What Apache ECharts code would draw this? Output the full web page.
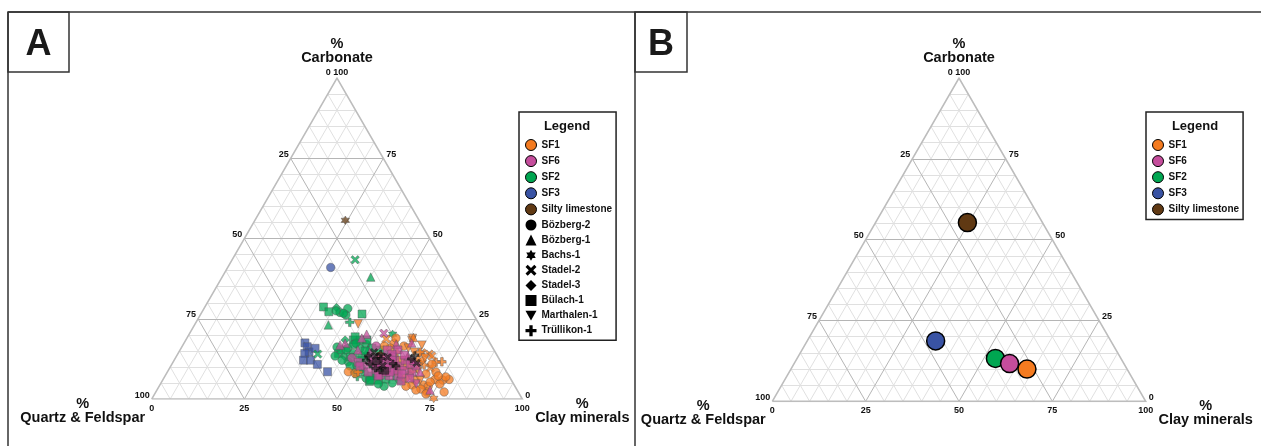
<!DOCTYPE html>
<html><head><meta charset="utf-8">
<script src="https://cdn.jsdelivr.net/npm/echarts@6/dist/echarts.min.js"></script>
<style>html,body{margin:0;padding:0;background:#fff}#c{width:1261px;height:446px}</style>
</head><body><div id="c"></div>
<script>
// ---------------- DATA ----------------
const groupNames = ['SF1', 'SF6', 'SF2', 'SF3', 'Silty limestone'];
const groupColors = ['#F47B20', '#C54D9C', '#00A651', '#3953A4', '#603913'];
const boreholeNames = ['Bözberg-2', 'Bözberg-1', 'Bachs-1', 'Stadel-2', 'Stadel-3', 'Bülach-1', 'Marthalen-1', 'Trüllikon-1'];
const boreholeCodes = ['B2', 'B1', 'BA', 'S2', 'S3', 'BU', 'M1', 'T1'];
const ternaryTicks = [0, 25, 50, 75, 100];
const axisTitles = ['%\nCarbonate', '%\nQuartz & Feldspar', '%\nClay minerals'];

// Panel A samples: [carbonate %, clay minerals %, borehole code, dark outline]
const sf1Samples = [
  [8.5,48.8,'B2'],[8.0,50.9,'B2'],[8.4,51.5,'T1'],[23.4,44.0,'M1'],[18.2,61.1,'M1'],[14.4,65.7,'S2'],
  [14.0,67.9,'S2'],[11.6,72.5,'T1'],[6.1,77.2,'B2'],[5.9,75.6,'B2'],[6.1,73.4,'B2'],[0.2,76.0,'BA'],
  [4.4,71.1,'B2'],[4.0,72.6,'B2'],[2.2,73.2,'B2'],[3.1,71.1,'B2'],[5.9,68.1,'B2'],[7.2,66.1,'M1'],
  [10.3,63.1,'B2'],[11.5,64.5,'T1'],[12.8,65.5,'B1'],[10.6,68.2,'T1'],[9.7,70.3,'S2'],[8.4,72.5,'B2'],
  [7.8,70.1,'B2'],[8.7,67.5,'M1'],[9.7,64.6,'T1'],[12.1,61.0,'BU'],[14.6,58.9,'T1'],[16.5,59.8,'B2'],
  [17.4,56.7,'B2'],[18.7,53.9,'S2'],[15.9,56.4,'B2'],[14.6,63.5,'M1'],[13.4,68.9,'S2'],[4.7,75.4,'B2'],
  [2.2,77.8,'B2'],[6.9,75.9,'B2'],[5.9,69.5,'M1'],[4.4,68.0,'B2'],[6.5,65.1,'B2'],[8.4,62.3,'B2'],
  [10.6,59.6,'T1'],[11.5,71.0,'T1'],[16.8,64.5,'M1'],[18.9,60.9,'M1'],[16.5,54.5,'B2'],[13.4,54.9,'B2'],
  [1.6,73.2,'B2'],[12.0,67.0,'S3'],[9.0,66.0,'BA'],[13.0,62.5,'B1'],[10.0,61.0,'S3'],[19.2,61.0,'B1'],
  [10.9,66.4,'T1'],[12.8,67.3,'M1'],[10.9,70.2,'B2'],[7.2,73.7,'B2'],[5.3,72.5,'B2'],[2.8,69.9,'B2'],
  [4.0,66.6,'B2'],[14.6,65.1,'T1'],[15.9,61.3,'M1'],[19.0,56.4,'B2'],
  [12.5,63.8,'T1',1],[11.2,65.9,'S2',1],[13.6,64.2,'T1',1]
];
const sf6Samples = [
  [20.5,52.4,'S2'],[20.2,47.9,'B1'],[17.4,43.5,'B1'],[16.8,42.4,'B1'],[19.0,47.2,'B1'],[17.5,61.4,'B1'],
  [2.8,73.7,'B1'],[10.6,57.7,'BU'],[9.7,60.0,'BU'],[10.3,61.8,'BU'],[12.1,62.3,'BU'],[8.4,66.0,'BU'],
  [7.2,62.9,'BU'],[7.2,60.5,'BU'],[7.5,57.9,'BU'],[9.0,56.0,'BU'],[11.5,53.7,'BU'],[12.8,54.7,'B2'],
  [11.5,56.7,'B2'],[12.8,57.7,'BU'],[12.1,59.6,'BU'],[9.0,63.6,'BU'],[10.3,66.2,'BU'],[13.4,62.5,'B1'],
  [14.6,51.6,'B1'],[15.3,48.0,'B1'],[12.8,47.6,'B2'],[10.3,52.2,'B2'],[8.4,54.2,'BU'],[13.4,58.4,'BU'],
  [5.6,64.5,'BU'],[4.7,69.0,'M1'],[15.3,55.9,'BU'],[17.1,57.4,'B1'],[16.5,52.3,'B2'],[11.5,50.0,'BU'],
  [10.3,56.5,'BA'],[10.9,64.3,'BU'],[9.0,61.1,'BU'],[7.8,63.6,'BU'],[6.5,66.4,'BU'],[8.4,59.0,'BU'],
  [7.2,57.5,'BU'],[12.1,64.7,'B1'],[15.3,58.8,'BU'],[13.7,61.3,'BU'],[14.0,57.8,'BU'],[8.4,68.2,'B1'],
  [10.3,51.0,'BU'],
  [12.1,53.4,'BU'],[11.5,55.9,'BU'],[10.9,58.4,'BU'],[10.3,55.4,'BU'],[12.1,58.8,'BU'],
  [8.4,60.1,'BU'],[9.7,58.4,'BU'],[12.8,56.3,'BU']
];
const sf2Samples = [
  [43.4,33.2,'S2'],[38.0,40.1,'B1'],[28.7,32.0,'BU'],[27.2,34.2,'BU'],[28.5,35.6,'S3'],[28.2,38.8,'B2'],
  [27.0,37.3,'B2'],[26.2,39.3,'B2'],[26.5,43.5,'BU'],[23.1,36.1,'B1'],[23.9,41.5,'T1'],[26.7,38.4,'B2'],
  [27.5,36.0,'B2'],[14.0,37.8,'S2'],[20.2,54.9,'BA'],
  [14.2,43.3,'BU'],[15.3,43.4,'BU'],[15.9,45.0,'B2'],[14.2,47.3,'B2'],[15.8,48.3,'B2'],[11.6,47.2,'B2'],
  [10.6,50.0,'B2'],[18.4,45.2,'BU'],[18.4,43.0,'S3'],[18.4,47.0,'BU'],[17.1,49.3,'B2'],[15.9,51.5,'BU'],
  [13.4,50.0,'B2'],[13.4,45.2,'S3'],[10.3,48.4,'B2'],[8.4,53.1,'B2'],[7.2,55.8,'BU'],[5.9,58.2,'BU'],
  [6.2,60.1,'BU'],[5.0,62.4,'B2'],[7.2,62.4,'BU'],[12.8,52.5,'B2'],[11.5,54.8,'BA'],[15.3,54.0,'BU'],
  [14.0,56.8,'B2'],[19.4,45.2,'BU'],[16.2,41.9,'B2'],[13.4,42.8,'B2'],[10.3,54.8,'T1'],[9.0,57.6,'S3'],
  [6.5,54.6,'B2'],[12.1,50.2,'BU'],[15.3,50.7,'B1'],[8.4,50.4,'S3'],[4.0,60.7,'B2'],[15.3,44.8,'B2'],
  [7.0,52.0,'T1'],[9.5,52.0,'B2'],[17.0,46.0,'B2'],[5.5,56.0,'BU'],[18.4,48.9,'BU'],[8.0,56.7,'BU'],
  [5.9,64.0,'B2'],[12.1,45.3,'B2'],[13.1,47.0,'BU'],[17.4,46.4,'B2'],[15.0,50.1,'BU'],[4.7,58.8,'B2'],
  [5.9,56.0,'BU'],
  [13.4,51.7,'T1',1],[13.4,53.8,'S2',1],[10.9,53.5,'T1',1],[9.0,57.1,'T1',1],[14.6,52.7,'S2',1],
  [10.3,60.8,'T1',1],[12.1,51.8,'T1',1],[11.8,54.6,'BU',1],[12.6,55.6,'T1',1],[10.4,57.2,'S2',1],
  [11.0,59.6,'T1',1],[9.6,55.6,'T1',1],[13.0,57.2,'S2',1],[8.8,58.6,'BU',1],[14.0,54.8,'T1',1]
];
const sf3Samples = [
  [17.5,32.6,'BU'],[16.3,33.8,'BU'],[14.7,35.1,'BU'],[14.2,34.2,'BU'],[12.1,34.9,'BU'],[12.1,36.8,'BU'],
  [10.8,39.3,'BU'],[8.5,43.2,'BU'],[15.8,36.2,'BU'],[41.0,27.8,'B2']
];
const siltySamples = [[55.7,24.4,'BA']];

// Panel B: mean composition of each group [carbonate %, clay minerals %]
const meanSF1 = [10.0, 63.2];
const meanSF6 = [11.7, 57.7];
const meanSF2 = [13.3, 53.1];
const meanSF3 = [18.7, 34.4];
const meanSilty = [55.3, 24.6];

// ---------------- HELPERS ----------------
const SQ = Math.sqrt(3) / 2;
function tern(carb, clay) { return [clay + carb / 2, carb * SQ]; }

const shapeSymbols = {
  B2: 'circle', B1: 'triangle',
  BA: 'path://M5,0 L6.44,2.5 L9.33,2.5 L7.89,5 L9.33,7.5 L6.44,7.5 L5,10 L3.56,7.5 L0.67,7.5 L2.11,5 L0.67,2.5 L3.56,2.5 Z',
  S2: 'path://M0,2 L2,0 L5,3 L8,0 L10,2 L7,5 L10,8 L8,10 L5,7 L2,10 L0,8 L3,5 Z',
  S3: 'diamond', BU: 'rect',
  M1: 'path://M0,0 L10,0 L5,9 Z',
  T1: 'path://M3.5,0 L6.5,0 L6.5,3.5 L10,3.5 L10,6.5 L6.5,6.5 L6.5,10 L3.5,10 L3.5,6.5 L0,6.5 L0,3.5 L3.5,3.5 Z'
};
const shapeSizes = { B2: 8.5, B1: 8.5, BA: 8.5, S2: 8.5, S3: 8.5, BU: 8, M1: 8.5, T1: 8.5 };

const FONT = 'Liberation Sans';
const TXT = '#111';

function segs(levels) {
  const out = [];
  for (const t of levels) {
    out.push({ coords: [tern(t, 0), tern(t, 100 - t)] });
    out.push({ coords: [tern(0, t), tern(100 - t, t)] });
    out.push({ coords: [tern(0, 100 - t), tern(100 - t, 0)] });
  }
  return out;
}
const majorLevels = ternaryTicks.filter(t => t > 0 && t < 100);
const minorLevels = [];
for (let t = 5; t < 100; t += 5) if (!majorLevels.includes(t)) minorLevels.push(t);

function gridSeries(p) {
  const base = { type: 'lines', coordinateSystem: 'cartesian2d', xAxisIndex: p, yAxisIndex: p, silent: true, animation: false };
  return [
    Object.assign({}, base, { data: segs(minorLevels), lineStyle: { color: '#e0e0e0', width: 1, opacity: 1 }, z: 1 }),
    Object.assign({}, base, { data: segs(majorLevels), lineStyle: { color: '#b5b5b5', width: 1, opacity: 1 }, z: 2 }),
    Object.assign({}, base, { polyline: true, data: [{ coords: [tern(0, 0), tern(0, 100), tern(100, 0), tern(0, 0)] }],
      lineStyle: { color: '#bdbdbd', width: 1.6, opacity: 1 }, z: 2 })
  ];
}

function lbl(pt, text, align, offset, size, lh) {
  return { value: pt, label: { show: true, formatter: text, position: 'inside', align: align, verticalAlign: 'middle',
    offset: offset, fontSize: size, lineHeight: lh || size + 2, fontWeight: 'bold', fontFamily: FONT, color: TXT,
    textBorderWidth: 0, opacity: 1 } };
}

function labelSeries(p) {
  const items = [];
  items.push(lbl(tern(100, 0), '0 100', 'center', [0, -6], 9));
  for (const t of ternaryTicks) if (t > 0) items.push(lbl(tern(100 - t, 0), String(t), 'right', [-2, -4], 9));
  for (const c of ternaryTicks) if (c < 100) items.push(lbl(tern(c, 100 - c), String(c), 'left', [3, -4], 9));
  for (const t of ternaryTicks) items.push(lbl(tern(0, t), String(t), 'center', [0, 9], 9));
  items.push(lbl(tern(100, 0), axisTitles[0], 'center', [0, -27], 14.5, 14));
  items.push(lbl(tern(0, 0), axisTitles[1], 'center', [-69, 12], 14.5, 14));
  items.push(lbl(tern(0, 100), axisTitles[2], 'center', [60, 12], 14.5, 14));
  return { type: 'scatter', xAxisIndex: p, yAxisIndex: p, symbolSize: 1, silent: true, animation: false,
    itemStyle: { color: 'rgba(0,0,0,0)', opacity: 1 }, data: items, z: 6 };
}

function sampleSeries(name, arr, color, darkOnly) {
  const rows = arr.filter(s => darkOnly ? !!s[3] : !s[3]);
  return {
    type: 'scatter', name: name, xAxisIndex: 0, yAxisIndex: 0, silent: true, animation: false, z: 4,
    itemStyle: darkOnly ? { color: '#1b1b1b', borderColor: '#000', borderWidth: 0.6, opacity: 0.65 }
                        : { color: color, opacity: 0.75, borderColor: '#555', borderWidth: 0.6 },
    data: rows.map(s => ({ value: tern(s[0], s[1]), symbol: shapeSymbols[s[2]], symbolSize: shapeSizes[s[2]] - (darkOnly ? 1 : 0) }))
  };
}

function meanSeries(name, m, color) {
  return { type: 'scatter', name: name, xAxisIndex: 1, yAxisIndex: 1, silent: true, animation: false, z: 4,
    symbol: 'circle', symbolSize: 18,
    itemStyle: { color: color, borderColor: '#000', borderWidth: 1.5, opacity: 1 }, data: [tern(m[0], m[1])] };
}

// ---------------- CHART ----------------
const chart = echarts.init(document.getElementById('c'), null, { renderer: 'canvas' });

const legendTextStyle = { fontSize: 10, fontWeight: 'bold', fontFamily: FONT, color: '#111', lineHeight: 11 };
const groupLegend = groupNames.map((n, i) => ({ name: n, icon: 'circle',
  itemStyle: { color: groupColors[i], borderColor: '#000', borderWidth: 1, opacity: 1 } }));
const boreLegend = boreholeNames.map((n, i) => ({ name: n, icon: shapeSymbols[boreholeCodes[i]],
  itemStyle: { color: '#000', borderWidth: 0, opacity: 1 } }));

const series = [];
series.push(...gridSeries(0), ...gridSeries(1));
series.push(labelSeries(0), labelSeries(1));
series.push(sampleSeries('SF3', sf3Samples, groupColors[3]));
series.push(sampleSeries('SF2', sf2Samples, groupColors[2]));
series.push(sampleSeries('SF1', sf1Samples, groupColors[0]));
series.push(sampleSeries('SF6', sf6Samples, groupColors[1]));
series.push(sampleSeries('SF2', sf2Samples, groupColors[2], true));
series.push(sampleSeries('SF1', sf1Samples, groupColors[0], true));
series.push(sampleSeries('Silty limestone', siltySamples, groupColors[4]));
boreholeNames.forEach((n, i) => series.push({ type: 'scatter', name: n, xAxisIndex: 0, yAxisIndex: 0,
  symbol: shapeSymbols[boreholeCodes[i]], itemStyle: { color: '#000' }, data: [] }));
series.push(meanSeries('SF3', meanSF3, groupColors[3]));
series.push(meanSeries('Silty limestone', meanSilty, groupColors[4]));
series.push(meanSeries('SF2', meanSF2, groupColors[2]));
series.push(meanSeries('SF6', meanSF6, groupColors[1]));
series.push(meanSeries('SF1', meanSF1, groupColors[0]));

const frame = { stroke: '#333', lineWidth: 1.5 };
chart.setOption({
  animation: false,
  backgroundColor: '#fff',
  grid: [
    { left: 151.7, top: 78.1, width: 370.6, height: 370.6 * SQ },
    { left: 772.3, top: 401.4 - 373.4 * SQ, width: 373.4, height: 373.4 * SQ }
  ],
  xAxis: [0, 1].map(i => ({ gridIndex: i, type: 'value', min: 0, max: 100, show: false })),
  yAxis: [0, 1].map(i => ({ gridIndex: i, type: 'value', min: 0, max: 100 * SQ, show: false })),
  legend: [
    { left: 519, top: 112, orient: 'vertical', selectedMode: false, itemWidth: 11, itemHeight: 11, itemGap: 4.1,
      padding: [27, 4, 4, 6], borderColor: '#222', borderWidth: 1.5, textStyle: legendTextStyle,
      data: groupLegend.concat(boreLegend) },
    { left: 1146, top: 112, orient: 'vertical', selectedMode: false, itemWidth: 11, itemHeight: 11, itemGap: 4.1,
      padding: [27, 4, 4, 6], borderColor: '#222', borderWidth: 1.5, textStyle: legendTextStyle,
      data: groupLegend }
  ],
  graphic: [
    { type: 'line', shape: { x1: 8, y1: 12, x2: 1261, y2: 12 }, style: frame, silent: true },
    { type: 'line', shape: { x1: 8, y1: 12, x2: 8, y2: 446 }, style: frame, silent: true },
    { type: 'line', shape: { x1: 635, y1: 12, x2: 635, y2: 446 }, style: frame, silent: true },
    { type: 'rect', shape: { x: 8, y: 12, width: 61, height: 60 }, style: { fill: 'none', stroke: '#333', lineWidth: 1.5 }, silent: true },
    { type: 'rect', shape: { x: 635, y: 12, width: 52, height: 60 }, style: { fill: 'none', stroke: '#333', lineWidth: 1.5 }, silent: true },
    { type: 'text', x: 38.5, y: 45, style: { text: 'A', font: 'bold 36px "Liberation Sans"', fill: '#1a1a1a', textAlign: 'center', textVerticalAlign: 'middle' }, silent: true },
    { type: 'text', x: 661, y: 45, style: { text: 'B', font: 'bold 36px "Liberation Sans"', fill: '#1a1a1a', textAlign: 'center', textVerticalAlign: 'middle' }, silent: true },
    { type: 'text', x: 567, y: 126, style: { text: 'Legend', font: 'bold 13px "Liberation Sans"', fill: '#111', textAlign: 'center', textVerticalAlign: 'middle' }, silent: true },
    { type: 'text', x: 1195, y: 126, style: { text: 'Legend', font: 'bold 13px "Liberation Sans"', fill: '#111', textAlign: 'center', textVerticalAlign: 'middle' }, silent: true }
  ],
  series: series
});
</script></body></html>
